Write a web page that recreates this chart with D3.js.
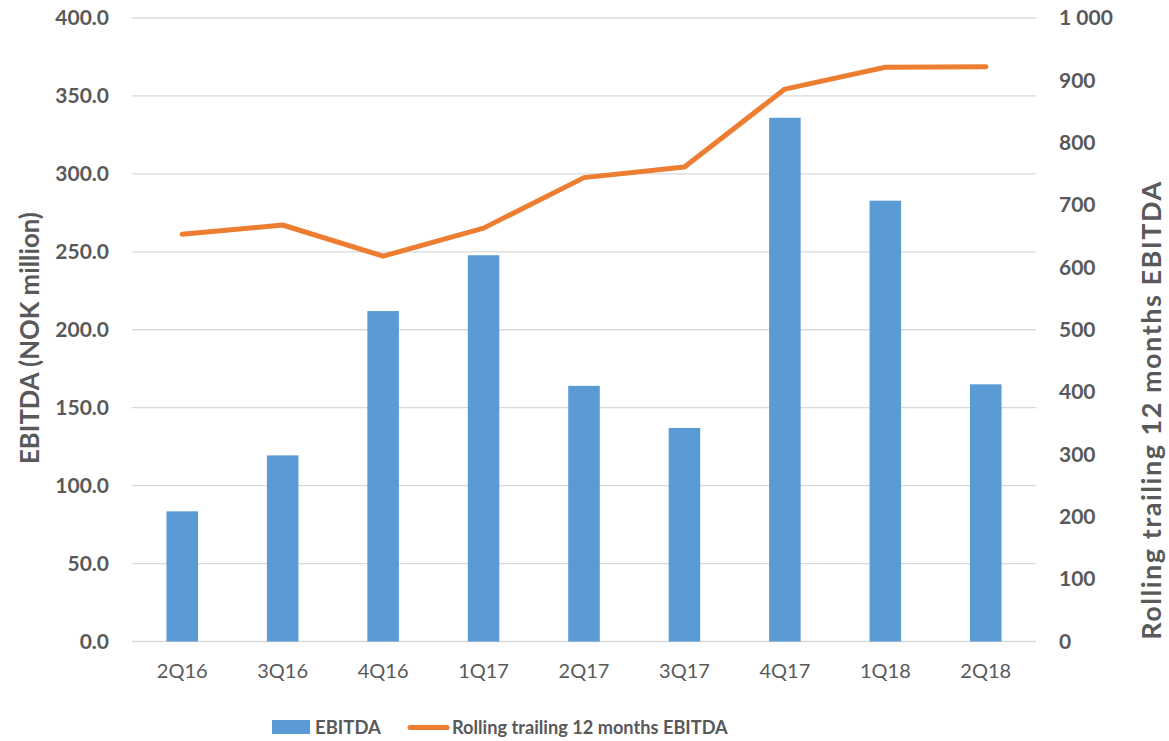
<!DOCTYPE html>
<html><head><meta charset="utf-8">
<script src="https://cdn.jsdelivr.net/npm/d3@7"></script>
<style>
body{margin:0;background:#fff;}
text{font-family:Lato,"Open Sans",sans-serif;fill:#595959;}
</style></head>
<body><svg id="chart" width="1169" height="741"></svg>
<script>
const categories = ["2Q16","3Q16","4Q16","1Q17","2Q17","3Q17","4Q17","1Q18","2Q18"];
const ebitda = [83.5, 119.4, 212, 247.8, 164, 137, 336, 282.8, 165];
const rolling = [653, 668, 618, 663, 744, 761, 886, 921, 922];
const leftTicks = [0,50,100,150,200,250,300,350,400];
const rightTicks = [0,100,200,300,400,500,600,700,800,900,1000];

const svg = d3.select("#chart");
const L = 132, R = 1036, T = 18, B = 641.5;

const x = d3.scaleBand().domain(categories).range([L, R]).paddingInner(0.686).paddingOuter(0.343);
const xc = d3.scalePoint().domain(categories).range([L, R]).padding(0.5);
const yL = d3.scaleLinear().domain([0,400]).range([B, T]);
const yR = d3.scaleLinear().domain([0,1000]).range([B, T]);

// gridlines
svg.append("g").selectAll("line").data(leftTicks).join("line")
  .attr("x1", L).attr("x2", R).attr("y1", d=>yL(d)).attr("y2", d=>yL(d))
  .attr("stroke", "#D9D9D9").attr("stroke-width", 1.3);

// bars
svg.append("g").selectAll("rect").data(ebitda).join("rect")
  .attr("x", (d,i)=>x(categories[i])).attr("width", x.bandwidth())
  .attr("y", d=>yL(d)).attr("height", d=>B - yL(d))
  .attr("fill", "#5B9BD5");

// line
const line = d3.line().x((d,i)=>xc(categories[i])).y(d=>yR(d));
svg.append("path").datum(rolling).attr("d", line)
  .attr("fill","none").attr("stroke","#ED7D31").attr("stroke-width",5)
  .attr("stroke-linecap","round").attr("stroke-linejoin","round");

// left axis
const axL = d3.axisLeft(yL).tickValues(leftTicks).tickFormat(d3.format(".1f")).tickSize(0).tickPadding(23);
const gL = svg.append("g").attr("transform", `translate(${L},0)`).call(axL);
gL.select(".domain").remove();
gL.selectAll("text").style("font-size","21px").style("font-weight","bold").attr("fill","#595959")
  .style("font-family","Lato,'Open Sans',sans-serif");

// right axis
const axR = d3.axisRight(yR).tickValues(rightTicks).tickFormat(d => d===1000 ? "1 000" : String(d)).tickSize(0).tickPadding(23);
const gR = svg.append("g").attr("transform", `translate(${R},0)`).call(axR);
gR.select(".domain").remove();
gR.selectAll("text").style("font-size","21px").style("font-weight","bold").attr("fill","#595959")
  .style("font-family","Lato,'Open Sans',sans-serif");

// x axis
const axX = d3.axisBottom(x).tickSize(0).tickPadding(22);
const gX = svg.append("g").attr("transform", `translate(0,${B})`).call(axX);
gX.select(".domain").remove();
gX.selectAll("text").style("font-size","20px").attr("fill","#595959")
  .style("font-family","Lato,'Open Sans',sans-serif");

// axis titles, sized to fit target lengths
function fitText(sel, target) {
  sel.style("font-size", "20px");
  const len = sel.node().getComputedTextLength();
  sel.style("font-size", (20 * target / len) + "px");
}
function spaceText(sel, size, target) {
  sel.style("font-size", size + "px").style("letter-spacing", "0px");
  const txt = sel.text();
  const len = sel.node().getComputedTextLength();
  sel.style("letter-spacing", ((target - len) / (txt.length - 1)) + "px");
}
const tL = svg.append("text").attr("transform","translate(39,338) rotate(-90)")
  .attr("text-anchor","middle").style("font-weight","bold")
  .text("EBITDA (NOK million)");
fitText(tL, 252);
const tR = svg.append("text").attr("transform","translate(1161,410) rotate(-90)")
  .attr("text-anchor","middle").style("font-weight","bold")
  .text("Rolling trailing 12 months EBITDA");
spaceText(tR, 27, 458);

// legend
const lg = svg.append("g");
lg.append("rect").attr("x",272).attr("y",720).attr("width",38).attr("height",14).attr("fill","#5B9BD5");
lg.append("text").attr("x",315).attr("y",734).style("font-size","18.5px").style("font-weight","bold").text("EBITDA");
lg.append("line").attr("x1",410).attr("x2",447).attr("y1",727.5).attr("y2",727.5)
  .attr("stroke","#ED7D31").attr("stroke-width",5).attr("stroke-linecap","round");
const lt = lg.append("text").attr("x",452).attr("y",734).style("font-weight","bold").text("Rolling trailing 12 months EBITDA");
fitText(lt, 276);
</script></body></html>
